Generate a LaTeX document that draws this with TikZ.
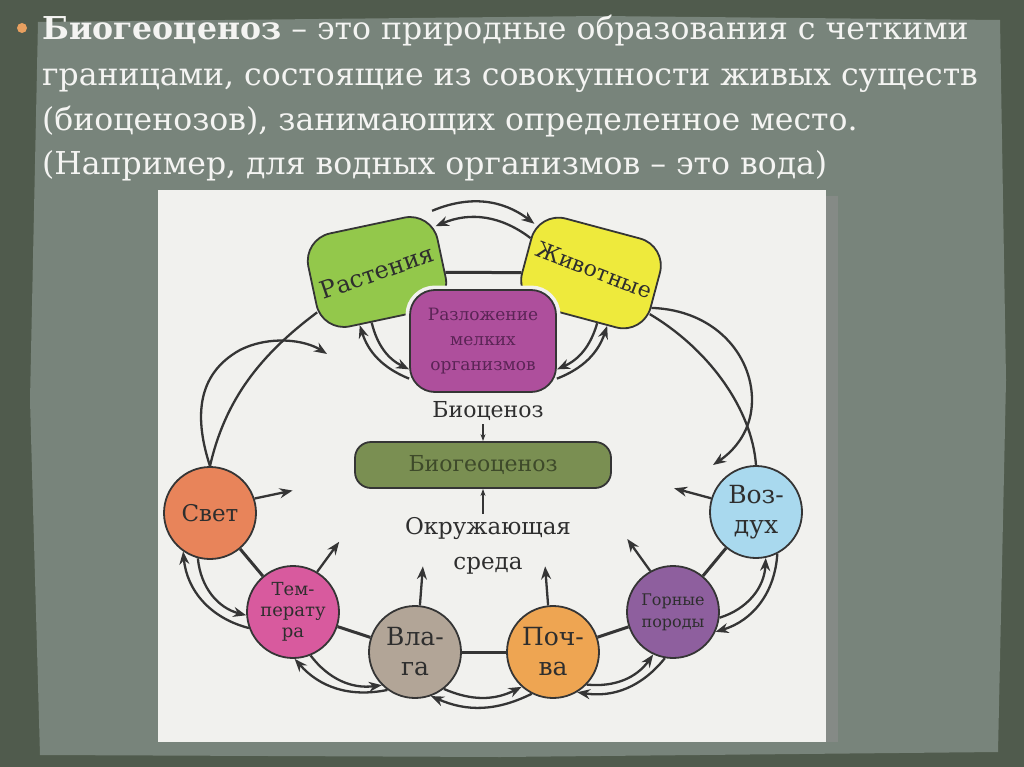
\documentclass[tikz,border=0pt]{standalone}
\usepackage{fontspec}
\setmainfont{DejaVu Serif}
\usetikzlibrary{arrows.meta,calc}
\definecolor{bgdark}{HTML}{505B4D}
\definecolor{bglight}{HTML}{78847B}
\definecolor{panelc}{HTML}{F1F1EE}
\definecolor{shadowc}{HTML}{858A86}
\definecolor{linec}{HTML}{353535}
\definecolor{txtc}{HTML}{2E2E2E}
\definecolor{slidetxt}{HTML}{F4F4F2}
\definecolor{bulletc}{HTML}{E8A060}
\definecolor{rastc}{HTML}{93C84B}
\definecolor{zhivc}{HTML}{EEEA3C}
\definecolor{razlc}{HTML}{AE4F9C}
\definecolor{razltxt}{HTML}{5B2456}
\definecolor{biogc}{HTML}{7A8F52}
\definecolor{biogtxt}{HTML}{3E4A2A}
\definecolor{svetc}{HTML}{E8845A}
\definecolor{tempc}{HTML}{D85A9E}
\definecolor{vlagac}{HTML}{B2A597}
\definecolor{pochvac}{HTML}{EEA552}
\definecolor{gornc}{HTML}{8E5F9E}
\definecolor{vozdc}{HTML}{A9D9EE}
\begin{document}
\begin{tikzpicture}[x=1pt,y=-1pt,
  slideline/.style={anchor=base west, inner sep=0pt, text=slidetxt, font=\fontsize{31.5}{38}\selectfont},
  bigbox/.style={draw=linec, line width=1.8pt, inner sep=0pt},
  ring/.style={circle, draw=linec, line width=1.8pt, minimum size=92pt, inner sep=0pt, align=center, text=txtc},
  link/.style={draw=linec, line width=3pt},
  arr/.style={draw=linec, line width=2.3pt, -{Stealth[length=13pt,width=10pt]}},
  arrsmall/.style={draw=linec, line width=1.3pt, -{Stealth[length=7pt,width=5pt]}},
  plain/.style={draw=linec, line width=2.3pt}]
\useasboundingbox (0,0) rectangle (1024,767);
% background
\fill[bgdark] (0,0) rectangle (1024,767);
\fill[bglight] (38,22) -- (600,16) -- (1000,20) -- (1006,380) -- (998,752) -- (500,757) -- (40,755) -- (30,400) -- cycle;
\fill[shadowc] (826,196) rectangle (838,742);
\fill[panelc] (158,190) rectangle (826,742);
% slide text
\fill[bulletc] (22,28) circle (5);
\node[slideline] (t1) at (42,40) {\textbf{Биогеоценоз} – это природные образования с четкими};
\node[slideline] (t2) at (42,86) {границами, состоящие из совокупности живых существ};
\node[slideline] (t3) at (42,131) {(биоценозов), занимающих определенное место.};
\node[slideline] (t4) at (42,175) {(Например, для водных организмов – это вода)};
% top boxes
\node[bigbox, fill=rastc, rotate=12, minimum width=132pt, minimum height=95pt, rounded corners=28pt] (rast) at (377,272) {};
\node[rotate=19, text=txtc, font=\fontsize{24}{28}\selectfont] (rastlbl) at (rast.center) {Растения};
\node[bigbox, fill=zhivc, rotate=-15, minimum width=133pt, minimum height=92pt, rounded corners=28pt] (zhiv) at (591,273) {};
\node[rotate=-21, text=txtc, font=\fontsize{22}{26}\selectfont] (zhivlbl) at (594,270) {Животные};
\draw[link] (rast) -- (zhiv);
\node[bigbox, fill=razlc, minimum width=146pt, minimum height=102pt, rounded corners=25pt,
      preaction={draw=panelc, line width=9pt}, align=center, text=razltxt,
      font=\fontsize{17}{25}\selectfont] (razl) at (483,341) {Разложение\\мелких\\организмов};
% centre
\node[text=txtc, font=\fontsize{22}{26}\selectfont] (biocen) at (488,411) {Биоценоз};
\node[draw=linec, line width=1.8pt, fill=biogc, rounded corners=16pt, minimum width=256pt, minimum height=46pt,
      text=biogtxt, font=\fontsize{22}{26}\selectfont] (biogeo) at (483,465) {Биогеоценоз};
\node[text=txtc, align=center, font=\fontsize{23}{35}\selectfont] (okr) at (488,546) {Окружающая\\среда};
\draw[arrsmall] (biogeo.north |- biocen.south) -- (biogeo.north);
\draw[arrsmall] (biogeo.south |- okr.north) -- (biogeo.south);
% circles
\node[ring, fill=svetc, font=\fontsize{23}{26}\selectfont] (svet) at (210,513) {Свет};
\node[ring, fill=tempc, font=\fontsize{18}{21}\selectfont] (temp) at (293,612) {Тем-\\перату\\ра};
\node[ring, fill=vlagac, font=\fontsize{25}{30}\selectfont] (vlaga) at (415,652) {Вла-\\га};
\node[ring, fill=pochvac, font=\fontsize{25}{30}\selectfont] (pochva) at (553,652) {Поч-\\ва};
\node[ring, fill=gornc, font=\fontsize{16}{22}\selectfont] (gorn) at (673,612) {Горные\\породы};
\node[ring, fill=vozdc, font=\fontsize{25}{30}\selectfont] (vozd) at (756,512) {Воз-\\дух};
\draw[link] (svet) -- (temp);
\draw[link] (temp) -- (vlaga);
\draw[link] (vlaga) -- (pochva);
\draw[link] (pochva) -- (gorn);
\draw[link] (gorn) -- (vozd);
% arrows between neighbouring circles
\draw[arr] (svet.255) to[bend right=35] (temp.184);
\draw[arr] (temp.200) to[bend left=35] (svet.235);
\draw[arr] (temp.292) to[bend right=30] (vlaga.225);
\draw[arr] (vlaga.234) to[bend left=30] (temp.272);
\draw[arr] (vlaga.308) to[bend right=25] (pochva.228);
\draw[arr] (pochva.243) to[bend left=25] (vlaga.290);
\draw[arr] (pochva.316) to[bend right=30] (gorn.245);
\draw[arr] (gorn.260) to[bend left=30] (pochva.301);
\draw[arr] (gorn.353) to[bend right=35] (vozd.282);
\draw[arr] (vozd.297) to[bend left=35] (gorn.335);
% arrows pointing inwards
\draw[arr] (svet.18) -- ++(38,-8);
\draw[arr] (temp.59) -- ++(22,-30);
\draw[arr] (vlaga.84) -- ++(3,-39);
\draw[arr] (pochva.96) -- ++(-3,-39);
\draw[arr] (gorn.119) -- ++(-23,-32);
\draw[arr] (vozd.163) -- ++(-37,-10);
% arrows between the boxes
\draw[arr] (rast.36) to[bend left=30] (zhiv.154);
\draw[arr] (zhiv.165) to[bend right=30] (rast.26);
\draw[arr] (razl.207) to[bend left=25] (rast.240);
\draw[arr] (rast.252) to[bend right=25] (razl.201);
\draw[arr] (razl.333) to[bend right=25] (zhiv.302);
\draw[arr] (zhiv.292) to[bend left=25] (razl.339);
% large curves
\coordinate (aend) at (327,354);
\coordinate (cend) at (713,465);
\draw[arr] (svet.north) .. controls (195,420) and (195,375) .. (240,350) .. controls (270,335) and (305,340) .. (aend);
\draw[plain] (rast.202) .. controls (260,355) and (225,400) .. (svet.north);
\draw[plain] (zhiv.340) .. controls (710,350) and (752,410) .. (vozd.north);
\draw[arr] (zhiv.345) .. controls (715,310) and (752,355) .. (752,400) .. controls (752,430) and (735,450) .. (cend);
\end{tikzpicture}
\end{document}
